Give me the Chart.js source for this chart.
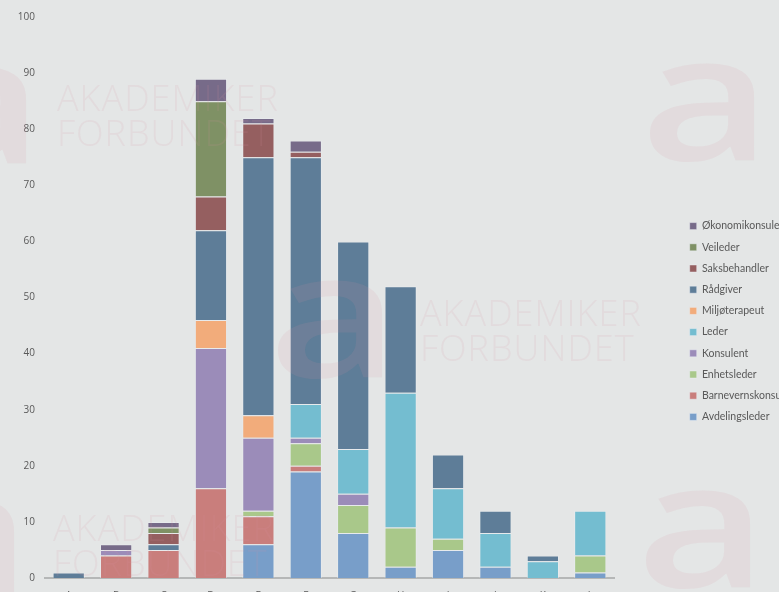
<!DOCTYPE html>
<html>
<head>
<meta charset="utf-8">
<script src="https://cdn.jsdelivr.net/npm/chart.js@4"></script>
<style>
  html, body { margin: 0; padding: 0; background: #e4e6e6; overflow: hidden; width: 779px; height: 592px; }
  #wrap { position: relative; width: 779px; height: 610px; }
  canvas { position: absolute; left: 0; top: 0; }
  .wm { position: absolute; font-family: "Open Sans", sans-serif; font-weight: 300; color: rgba(215, 150, 160, 0.13); pointer-events: none; line-height: 1; white-space: nowrap; }
  .wt { font-size: 36px; letter-spacing: 1px; }
  .wa { font-size: 175px; font-family: "Open Sans", sans-serif; font-weight: 600; transform-origin: 0 0; transform: scaleX(1.3); }
</style>
</head>
<body>
<div id="wrap">
  <canvas id="c" width="779" height="610"></canvas>
  <div class="wm wt" style="left:57px;top:80px;">AKADEMIKER</div>
  <div class="wm wt" style="left:57px;top:115px;">FORBUNDET</div>
  <div class="wm wt" style="left:420px;top:295px;">AKADEMIKER</div>
  <div class="wm wt" style="left:420px;top:330px;">FORBUNDET</div>
  <div class="wm wt" style="left:53px;top:510px;">AKADEMIKER</div>
  <div class="wm wt" style="left:53px;top:545px;">FORBUNDET</div>
  <div class="wm wa" style="left:640px;top:5px;">a</div>
  <div class="wm wa" style="left:268px;top:222px;">a</div>
  <div class="wm wa" style="left:-88px;top:8px;">a</div>
  <div class="wm wa" style="left:-100px;top:440px;">a</div>
  <div class="wm wa" style="left:636px;top:432px;">a</div>
</div>
<script>
const categories = ['A','B','C','D','E','F','G','H','I','J','K','L'];
const yTicks = [0,10,20,30,40,50,60,70,80,90,100];

const avdelingsleder      = [0,0,0,0,6,19,8,2,5,2,0,1];
const barnevernskonsulent = [0,4,5,16,5,1,0,0,0,0,0,0];
const enhetsleder         = [0,0,0,0,1,4,5,7,2,0,0,3];
const konsulent           = [0,1,0,25,13,1,2,0,0,0,0,0];
const leder               = [0,0,0,0,0,6,8,24,9,6,3,8];
const miljoterapeut       = [0,0,0,5,4,0,0,0,0,0,0,0];
const radgiver            = [1,0,1,16,46,44,37,19,6,4,1,0];
const saksbehandler       = [0,0,2,6,6,1,0,0,0,0,0,0];
const veileder            = [0,0,1,17,0,0,0,0,0,0,0,0];
const okonomikonsulent    = [0,1,1,4,1,2,0,0,0,0,0,0];

const seriesNames = ['Avdelingsleder','Barnevernskonsulent','Enhetsleder','Konsulent','Leder','Miljøterapeut','Rådgiver','Saksbehandler','Veileder','Økonomikonsulent'];
const seriesData = [avdelingsleder, barnevernskonsulent, enhetsleder, konsulent, leder, miljoterapeut, radgiver, saksbehandler, veileder, okonomikonsulent];
const seriesColors = ['#789ec9','#c97e7c','#a9c88a','#9b8cb9','#74bdd0','#f2ac7b','#5e7d98','#955f60','#7f9165','#776b89'];

const datasets = seriesNames.map((n, i) => ({
  label: n,
  data: seriesData[i],
  backgroundColor: seriesColors[i],
  borderColor: 'rgba(235,240,245,0.45)',
  borderWidth: 1,
  categoryPercentage: 1.0,
  barPercentage: 0.68
}));

const legendShift = {
  id: 'legendShift',
  afterInit(chart) {
    const lg = chart.legend;
    if (lg && !lg._patched) {
      const orig = lg.fit.bind(lg);
      lg.fit = function() { orig(); this.width = 165; };
      lg._patched = true;
    }
  },
  afterLayout(chart) {
    const lg = chart.legend;
    lg.left = 679;
    lg.top += 8;
    lg.bottom += 8;
  }
};

const textColor = '#595959';
new Chart(document.getElementById('c'), {
  type: 'bar',
  data: { labels: categories, datasets },
  plugins: [legendShift],
  options: {
    responsive: false,
    animation: false,
    layout: { padding: { top: 17, bottom: 0, left: 0, right: 0 } },
    plugins: {
      tooltip: { enabled: false },
      legend: {
        position: 'right',
        reverse: true,
        align: 'center',
        labels: {
          boxWidth: 7, boxHeight: 7,
          padding: 10.7,
          color: textColor,
          font: { family: 'Lato', size: 10.5 }
        }
      }
    },
    scales: {
      x: {
        stacked: true,
        grid: { display: false, drawTicks: false },
        border: { display: true, color: '#b5b7b7', width: 2 },
        ticks: { color: textColor, font: { family: 'Open Sans', size: 10 }, padding: 12 },
        afterFit(s) { s.height = 32; }
      },
      y: {
        stacked: true,
        min: 0, max: 100,
        afterBuildTicks(s) { s.ticks = yTicks.map(v => ({ value: v })); },
        grid: { display: false, drawTicks: false },
        border: { display: false },
        ticks: { color: textColor, font: { family: 'Open Sans', size: 10 }, padding: 10 },
        afterFit(s) { s.width = 45; }
      }
    }
  }
});
</script>
</body>
</html>
